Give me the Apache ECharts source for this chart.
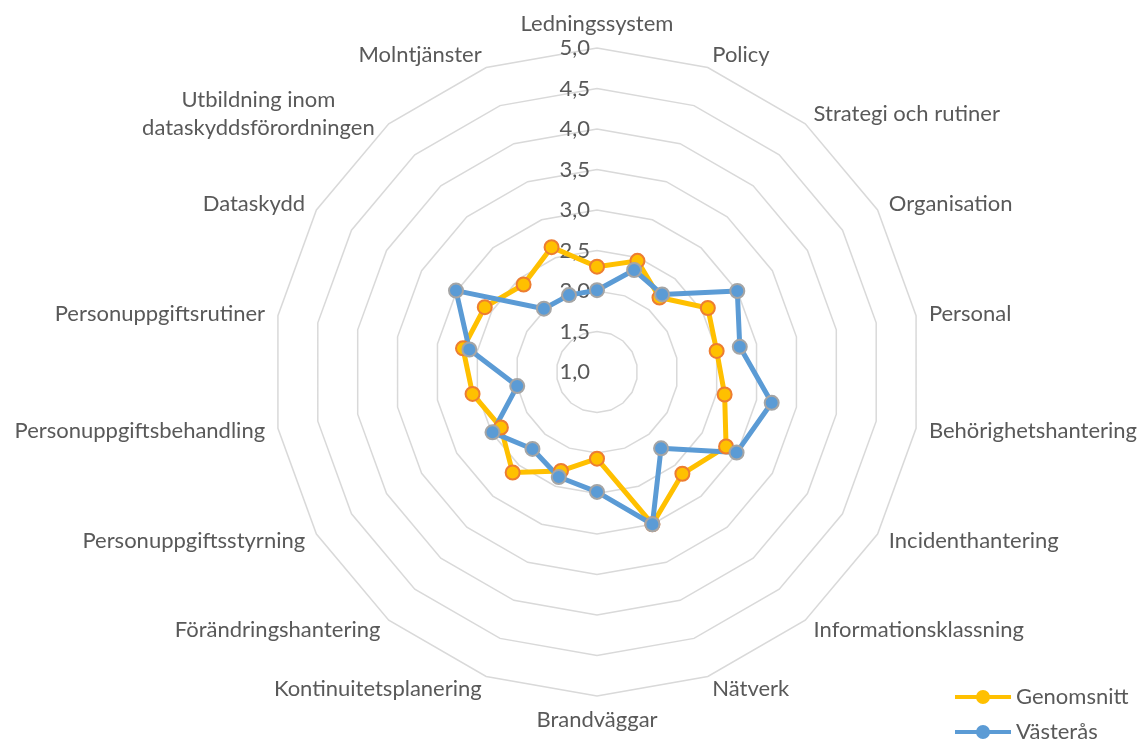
<!DOCTYPE html>
<html><head><meta charset="utf-8">
<script src="https://cdn.jsdelivr.net/npm/echarts@6/dist/echarts.min.js"></script>
<style>html,body{margin:0;padding:0;background:#fff}#c{width:1147px;height:743px}</style>
</head><body><div id="c"></div>
<script>
// Indicators in clockwise order starting from the top
const categories = [
  'Ledningssystem', 'Policy', 'Strategi och rutiner', 'Organisation', 'Personal',
  'Behörighetshantering', 'Incidenthantering', 'Informationsklassning', 'Nätverk',
  'Brandväggar', 'Kontinuitetsplanering', 'Förändringshantering', 'Personuppgiftsstyrning',
  'Personuppgiftsbehandling', 'Personuppgiftsrutiner', 'Dataskydd',
  'Utbildning inom\ndataskyddsförordningen', 'Molntjänster'
];
const genomsnitt = [2.30, 2.46, 2.20, 2.58, 2.50, 2.60, 2.84, 2.64, 3.00, 2.07, 2.30, 2.62, 2.37, 2.56, 2.68, 2.60, 2.41, 2.64];
const vasteras   = [2.01, 2.34, 2.25, 3.00, 2.79, 3.19, 2.99, 2.23, 3.00, 2.48, 2.38, 2.24, 2.49, 2.00, 2.60, 3.01, 2.02, 2.01];
const seriesNames = ['Genomsnitt', 'Västerås'];
const axisMin = 1, axisMax = 5, axisSplits = 8;

const FONT = 'Lato';
const FS = 22;
const TXT = '#595959';

// ECharts radar runs counter-clockwise: reorder so the chart reads clockwise
const order = [0];
for (let i = categories.length - 1; i >= 1; i--) order.push(i);
const reorder = arr => order.map(i => arr[i]);

const indicators = reorder(categories).map((name, i) => {
  const ind = { name: name, min: axisMin, max: axisMax };
  if (i === 0) ind.axisLabel = { show: true };
  return ind;
});

const legendIcon = 'path://M0,5h22v4h-22z M34,5h22v4h-22z M28,0a7,7 0 1,1 -0.001,0z';
const colors = ['#FFC000', '#5B9BD5'];
const borders = ['#ED7D31', '#A5A5A5'];

function legendFor(idx, top) {
  return {
    orient: 'vertical',
    left: 950,
    top: top,
    itemWidth: 56,
    itemHeight: 14,
    itemGap: 5,
    textStyle: { color: TXT, fontSize: FS, fontFamily: FONT },
    data: [{ name: seriesNames[idx], icon: legendIcon, itemStyle: { color: colors[idx], borderWidth: 0 } }]
  };
}

const chart = echarts.init(document.getElementById('c'), null, { renderer: 'canvas' });
chart.setOption({
  animation: false,
  backgroundColor: '#ffffff',
  legend: [legendFor(0, 681), legendFor(1, 716)],
  radar: {
    center: [597, 372],
    radius: 324,
    startAngle: 90,
    splitNumber: axisSplits,
    shape: 'polygon',
    indicator: indicators,
    nameGap: 13,
    axisName: {
      color: TXT,
      fontSize: FS,
      fontFamily: FONT,
      formatter: function (name) {
        if (name.indexOf('\n') >= 0) {
          return name.split('\n').map(s => '{c|' + s + '}').join('\n');
        }
        return name;
      },
      rich: {
        c: { width: 244, align: 'center', fontSize: FS, fontFamily: FONT, color: TXT, lineHeight: 28 }
      }
    },
    axisLine: { show: false },
    axisTick: { show: false },
    splitArea: { show: false },
    splitLine: { lineStyle: { color: '#D9D9D9', width: 1.5 } },
    axisLabel: {
      show: false,
      color: TXT,
      fontSize: FS,
      fontFamily: FONT,
      margin: 7,
      formatter: v => Number(v).toFixed(1).replace('.', ',')
    }
  },
  series: [{
    type: 'radar',
    symbol: 'circle',
    symbolSize: 14,
    data: seriesNames.map((nm, k) => ({
      name: nm,
      value: reorder(k === 0 ? genomsnitt : vasteras),
      lineStyle: { color: colors[k], width: 5 },
      itemStyle: { color: colors[k], borderColor: borders[k], borderWidth: 2 }
    }))
  }]
});
</script>
</body></html>
